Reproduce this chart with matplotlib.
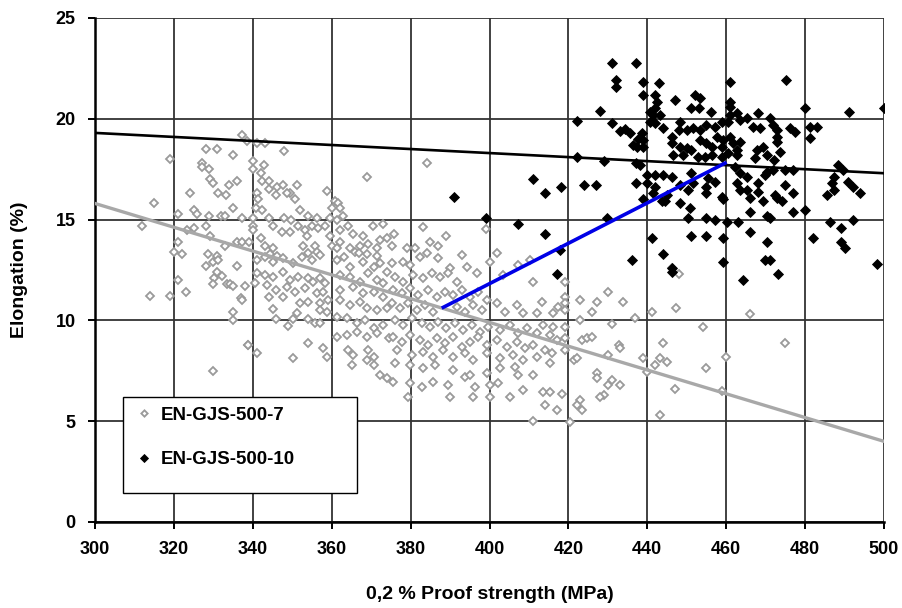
import matplotlib.pyplot as plt
from matplotlib.patches import Rectangle

plt.rcParams["font.family"] = ["Liberation Sans", "DejaVu Sans"]
plt.rcParams["font.weight"] = "bold"
plt.rcParams["axes.labelweight"] = "bold"

# 0,2 % proof strength (MPa) vs elongation (%) per test bar
GJS_500_7 = [
    (319.0, 18.0), (315.0, 15.8), (312.0, 14.7), (324.1, 16.3), (321.1, 15.3),
    (325.1, 15.5), (325.9, 15.3), (328.1, 14.7), (325.1, 14.6), (323.2, 14.5),
    (321.0, 13.9), (319.9, 13.4), (322.0, 13.3), (328.1, 18.5), (330.8, 18.5),
    (335.1, 18.2), (327.0, 17.8), (327.0, 17.6), (328.9, 17.5), (329.1, 17.0),
    (330.0, 16.8), (331.1, 16.3), (333.1, 16.2), (334.0, 16.7), (335.9, 16.9),
    (337.2, 19.2), (335.1, 15.6), (329.0, 15.2), (331.9, 15.2), (332.9, 15.2),
    (337.2, 15.1), (329.2, 14.2), (333.0, 13.7), (335.9, 13.9), (337.2, 13.9),
    (328.7, 13.3), (330.8, 13.2), (339.0, 13.9),
    (313.9, 11.2), (319.0, 11.2), (321.1, 12.0), (323.1, 11.4), (328.1, 12.7),
    (330.0, 12.9), (331.1, 13.0), (331.0, 12.4), (330.2, 12.1), (330.0, 11.8),
    (332.1, 12.2), (333.4, 11.8), (334.2, 11.8), (335.1, 11.7), (336.1, 12.7),
    (338.0, 11.7), (337.0, 11.1), (337.2, 11.0), (335.1, 10.4), (335.1, 10.0),
    (338.7, 8.8), (330.0, 7.5),
    (338.5, 18.9), (341.0, 18.8), (343.1, 18.8), (348.0, 18.4), (340.0, 17.9),
    (340.0, 17.5), (342.8, 17.7), (342.0, 17.3), (342.3, 16.9), (344.2, 16.9),
    (344.0, 16.5), (346.1, 16.6), (347.7, 16.7), (349.4, 16.3), (351.1, 16.7),
    (345.9, 16.2), (348.6, 16.3), (350.7, 16.0), (341.0, 16.3), (341.4, 16.0),
    (340.8, 15.6), (342.3, 15.5), (352.0, 15.5), (358.9, 16.4), (369.0, 17.1),
    (360.8, 15.9), (361.7, 15.8), (360.0, 15.6), (362.1, 15.6), (340.1, 15.1),
    (344.2, 15.1), (348.0, 15.1), (349.8, 15.0), (354.1, 15.2), (356.2, 15.1),
    (359.6, 15.1), (361.3, 15.0), (362.9, 15.2), (340.0, 14.7), (340.1, 14.5),
    (345.2, 14.7), (347.3, 14.4), (349.4, 14.4), (351.5, 14.7), (353.2, 14.5),
    (354.9, 14.7), (356.6, 14.6), (358.3, 14.7), (359.6, 14.2), (362.1, 14.5),
    (364.2, 14.7), (365.5, 14.3), (368.0, 14.2), (370.5, 14.7), (373.1, 14.8),
    (375.8, 14.3), (342.0, 14.1), (343.1, 13.7), (345.2, 13.6), (344.4, 13.3),
    (346.1, 13.2), (353.7, 14.2), (352.8, 13.7), (355.8, 13.7), (356.2, 13.4),
    (360.0, 13.7), (361.3, 13.6), (362.1, 13.9), (364.6, 13.6), (365.9, 13.4),
    (367.2, 13.7), (369.3, 13.8), (371.4, 13.6), (372.2, 14.0), (373.9, 14.1),
    (375.2, 13.7), (368.9, 13.3), (371.4, 13.2),
    (341.0, 13.0), (343.1, 13.16), (345.2, 12.91), (347.7, 13.08), (350.3, 12.83),
    (352.4, 13.16), (354.1, 13.33), (355.0, 13.0), (357.0, 13.24),
    (341.0, 12.34), (343.1, 12.25), (345.2, 12.17), (347.7, 12.42), (349.4, 12.0),
    (351.5, 12.17), (354.1, 12.09), (355.3, 11.92), (357.0, 12.09), (358.3, 11.84),
    (340.6, 11.84), (343.5, 11.76), (346.0, 11.51), (348.6, 11.67), (350.7, 11.42),
    (353.2, 11.59), (356.2, 11.34), (357.9, 11.42),
    (344.0, 11.18), (347.7, 11.18), (352.0, 10.85), (354.1, 10.93), (357.0, 10.85),
    (359.1, 11.01), (345.2, 10.55), (351.1, 10.35), (357.0, 10.52), (358.7, 10.43),
    (345.9, 10.08), (349.0, 9.71), (350.3, 10.05), (354.1, 10.05), (355.8, 9.88),
    (357.0, 9.88), (338.9, 8.78), (341.0, 8.4), (354.1, 8.9), (350.1, 8.12),
    (357.9, 8.61), (358.9, 8.2),
    (361.3, 12.99), (363.0, 13.16), (364.6, 12.66), (366.8, 13.33), (368.0, 12.91),
    (370.6, 12.66), (372.2, 12.83), (374.0, 12.42), (362.1, 12.25), (364.6, 12.17),
    (367.2, 11.92), (369.3, 12.33), (371.4, 12.0), (373.1, 11.84), (362.1, 11.5),
    (365.5, 11.67), (368.0, 11.34), (370.6, 11.42), (373.1, 11.18), (362.1, 11.01),
    (364.6, 10.76), (367.2, 10.93), (368.9, 10.6), (371.4, 10.51), (374.0, 10.6),
    (361.3, 10.18), (363.8, 10.1), (366.3, 9.85), (368.4, 10.02), (370.6, 9.6),
    (373.1, 9.77), (361.3, 9.19), (363.8, 9.27), (366.3, 9.44), (368.9, 9.19),
    (371.4, 9.36), (374.4, 9.11), (364.2, 8.53), (365.5, 8.28), (369.3, 8.53),
    (370.6, 8.2), (368.9, 8.03), (370.6, 7.79), (365.1, 7.79), (372.2, 7.29),
    (374.0, 7.12),
    (379.0, 13.57), (381.1, 13.57), (383.1, 14.62), (384.9, 13.9), (387.0, 13.69),
    (389.1, 14.19), (399.1, 14.52), (384.1, 17.8),
    (375.2, 12.83), (378.2, 12.91), (379.9, 12.75), (382.4, 13.16), (384.1, 13.33),
    (387.0, 13.08), (390.0, 12.58), (393.0, 13.24), (394.2, 12.66), (396.8, 12.33),
    (400.1, 12.91), (401.8, 13.33), (403.5, 12.25), (407.3, 12.75), (410.3, 12.99),
    (411.1, 11.92), (412.0, 10.35),
    (376.0, 12.17), (378.2, 11.92), (380.7, 12.25), (383.2, 12.08), (385.3, 12.33),
    (387.5, 12.17), (389.6, 12.33), (391.7, 11.92),
    (375.6, 11.5), (377.7, 11.34), (379.9, 11.59), (382.0, 11.26), (384.5, 11.5),
    (386.6, 11.18), (388.7, 11.42), (390.8, 11.26), (393.0, 11.5), (395.1, 11.18),
    (397.2, 11.42), (399.3, 11.01),
    (375.2, 10.85), (377.3, 10.6), (379.4, 10.85), (381.5, 10.51), (383.7, 10.76),
    (385.8, 10.43), (391.7, 10.68), (393.8, 10.43), (395.9, 10.76), (398.0, 10.51),
    (401.8, 10.85), (403.9, 10.43), (406.9, 10.76), (408.6, 10.35),
    (376.0, 10.02), (378.2, 9.77), (380.3, 10.1), (382.8, 9.85), (384.9, 9.69),
    (387.0, 9.94), (389.1, 9.6), (391.3, 9.85), (393.4, 9.52), (395.5, 9.77),
    (397.6, 9.44), (399.7, 9.69), (402.7, 9.52), (405.2, 9.77), (407.3, 9.36),
    (409.4, 9.6), (412.0, 9.36),
    (375.6, 9.19), (377.7, 8.94), (379.9, 9.27), (382.4, 9.03), (384.5, 8.78),
    (386.6, 9.11), (388.7, 8.86), (390.8, 9.19), (393.0, 8.7), (395.1, 8.94),
    (397.2, 9.19), (399.3, 8.78), (401.8, 9.03), (404.4, 8.7), (406.9, 8.94),
    (409.0, 8.61), (411.1, 8.78),
    (376.5, 8.53), (380.3, 8.28), (383.2, 8.45), (385.8, 8.2), (388.3, 8.53),
    (390.8, 8.2), (393.8, 8.37), (395.9, 8.03), (399.3, 8.37), (402.7, 8.12),
    (406.0, 8.28), (408.6, 8.03), (412.0, 8.2),
    (376.0, 7.87), (379.9, 7.79), (383.2, 7.62), (386.2, 7.79), (390.8, 7.54),
    (393.8, 7.2), (395.1, 7.29), (399.3, 7.37), (402.7, 7.62), (406.5, 7.7),
    (407.3, 7.29), (411.1, 7.29),
    (375.6, 6.96), (379.9, 6.88), (382.8, 6.71), (385.8, 6.96), (389.6, 6.79),
    (396.3, 6.71), (400.1, 6.79), (402.2, 6.88), (408.6, 6.55), (379.4, 6.21),
    (390.0, 6.21), (395.9, 6.21), (400.1, 6.21), (405.2, 6.21),
    (419.1, 11.92), (413.2, 10.93), (416.2, 10.35), (417.4, 10.68), (419.1, 11.18),
    (419.1, 10.85), (419.1, 10.51), (422.9, 11.01), (425.9, 10.43), (427.2, 10.93),
    (430.1, 11.42), (433.9, 10.93), (441.1, 10.43), (447.4, 10.6), (436.9, 10.1),
    (422.9, 10.02), (431.0, 9.82), (454.2, 9.69), (444.1, 8.86), (413.6, 9.77),
    (416.2, 9.69), (419.1, 9.69), (415.3, 9.27), (417.0, 9.03), (419.1, 9.11),
    (423.4, 9.03), (424.6, 9.11), (425.9, 9.16), (432.7, 8.78), (433.1, 8.61),
    (430.1, 8.28), (439.0, 8.12), (443.2, 8.12), (442.0, 7.79), (444.9, 7.95),
    (455.0, 7.62), (421.3, 8.03), (422.1, 8.12), (414.1, 8.53), (415.8, 8.37),
    (415.3, 7.87), (419.1, 8.53), (427.2, 7.37), (427.2, 7.12), (431.0, 7.04),
    (430.1, 6.79), (433.1, 6.79), (428.9, 6.3), (428.0, 6.21), (422.9, 6.05),
    (422.1, 5.8), (423.4, 5.55), (417.0, 5.55), (414.1, 5.8), (413.6, 6.46),
    (415.3, 6.46), (418.3, 6.35), (447.0, 6.58), (443.2, 5.31), (420.4, 4.97),
    (439.8, 7.45), (411.0, 5.0),
    (446.2, 12.6), (448.1, 12.3), (466.0, 10.3), (459.9, 8.2), (459.0, 6.5),
    (475.0, 8.9),
]

GJS_500_10 = [
    (391.1, 16.1), (399.1, 15.1), (407.1, 14.8), (411.1, 17.0), (414.1, 16.3),
    (414.1, 14.3), (417.0, 12.3), (417.9, 13.5), (418.1, 16.6), (422.1, 18.1),
    (422.1, 19.9), (424.0, 16.7), (427.0, 16.7), (428.0, 20.4), (429.0, 17.9),
    (429.7, 15.1), (431.0, 19.8), (431.1, 22.75), (432.1, 21.9), (432.1, 21.6),
    (433.1, 19.4), (434.3, 19.5), (435.6, 19.3), (436.3, 18.7), (436.0, 13.0),
    (437.1, 22.75), (437.1, 17.8), (437.1, 16.8), (437.3, 18.6), (437.7, 19.0),
    # 438-500 MPa, upper band
    (439.0, 21.84), (439.0, 21.18), (443.0, 21.76), (461.0, 21.84), (475.1, 21.93),
    (441.9, 21.18), (442.4, 20.85), (441.9, 20.52), (440.7, 20.36), (441.5, 20.19),
    (443.2, 20.19), (440.7, 19.86), (441.9, 19.78), (447.0, 20.93), (452.1, 21.18),
    (453.4, 21.02), (451.2, 20.52), (453.2, 20.52), (456.1, 20.36), (461.0, 20.85),
    (461.0, 20.6), (462.7, 20.27), (461.0, 20.19), (468.1, 20.31), (471.1, 20.03),
    (480.1, 20.52), (491.1, 20.36), (500.0, 20.52),
    (444.1, 19.53), (448.3, 19.86), (448.1, 19.45), (450.0, 19.45), (451.7, 19.53),
    (453.4, 19.45), (455.0, 19.69), (457.2, 19.61), (458.9, 19.86), (460.5, 19.86),
    (463.5, 19.94), (465.2, 20.03), (466.9, 19.61), (468.6, 19.53), (471.9, 19.69),
    (472.8, 19.45), (476.2, 19.53), (477.4, 19.36), (481.2, 19.61), (482.9, 19.61),
    (481.2, 19.03), (438.6, 19.28), (439.0, 18.95), (439.0, 18.62),
    (446.2, 19.12), (446.2, 18.78), (448.3, 18.62), (450.0, 18.54), (451.2, 18.45),
    (453.4, 18.95), (455.0, 18.78), (456.3, 18.62), (457.6, 19.12), (459.3, 18.95),
    (458.9, 18.62), (461.0, 19.12), (461.8, 18.78), (462.7, 18.45), (463.5, 18.87),
    (446.6, 18.21), (449.1, 18.21), (452.9, 18.12), (454.6, 18.12), (456.3, 18.21),
    (458.9, 18.12), (460.5, 18.29), (462.7, 18.21),
    (467.7, 18.45), (469.4, 18.62), (467.3, 18.04), (470.3, 18.21), (472.0, 17.96),
    (472.8, 18.87), (472.8, 19.12), (473.6, 18.37),
    (488.4, 17.71), (489.7, 17.46), (487.2, 17.13), (486.7, 16.8), (487.2, 16.47),
    (485.5, 16.22), (491.0, 16.88), (492.2, 16.63), (493.9, 16.3),
    (438.2, 17.71), (439.8, 17.21), (441.9, 17.21), (444.1, 17.21), (446.2, 17.13),
    (439.8, 16.8), (441.9, 16.63), (441.5, 16.3), (444.9, 16.22), (451.2, 17.3),
    (455.5, 17.05), (455.0, 16.63), (455.0, 16.3), (457.2, 16.88), (458.9, 16.14),
    (462.2, 17.63), (463.5, 17.3), (465.2, 17.13), (462.7, 16.8), (463.5, 16.47),
    (465.2, 16.47), (468.1, 16.8), (468.1, 16.39), (469.8, 17.21), (470.3, 17.38),
    (472.4, 16.22), (474.9, 16.72), (477.0, 16.3), (474.9, 17.46), (477.0, 17.46),
    (471.9, 17.46), (448.3, 16.72), (450.4, 16.47), (451.7, 16.8),
    # 438-500 MPa, lower band
    (443.6, 15.9), (444.5, 15.9), (448.3, 15.8), (450.8, 15.6), (450.4, 15.1),
    (459.3, 16.0), (455.0, 15.1), (457.2, 15.0), (460.1, 14.9), (441.1, 14.1),
    (444.1, 13.3), (446.2, 12.6), (446.2, 12.4), (451.2, 14.2), (455.0, 14.2),
    (459.1, 14.1), (459.1, 12.9), (466.0, 16.05), (466.0, 15.4), (469.4, 15.9),
    (470.3, 15.2), (471.1, 15.1), (472.8, 16.05), (474.1, 15.9), (477.0, 15.4),
    (480.1, 15.5), (463.1, 14.9), (466.0, 14.4), (470.3, 13.9), (469.8, 13.0),
    (471.1, 13.0), (473.2, 12.3), (464.2, 12.0), (482.1, 14.1), (486.3, 14.9),
    (489.0, 14.6), (489.0, 13.9), (490.1, 13.6), (492.1, 15.0), (498.1, 12.8),
    (439.0, 16.0),
]

# linear trends and the shift between the two grades
TREND_7_X = [300, 500]
TREND_7_Y = [15.8, 4.0]
TREND_10_X = [300, 500]
TREND_10_Y = [19.3, 17.3]
SHIFT_X = [388.3, 459.7]
SHIFT_Y = [10.65, 17.8]

x7, y7 = zip(*GJS_500_7)
x10, y10 = zip(*GJS_500_10)

fig = plt.figure(figsize=(9.03, 6.08), dpi=100)
ax = fig.add_axes([95 / 903, 86 / 608, 789 / 903, 504 / 608])

ax.plot(x7, y7, "D", ms=4.3, mfc="white", mec="#9a9a9a", mew=1.3,
        ls="none", zorder=3, label="EN-GJS-500-7")
ax.plot(x10, y10, "D", ms=5.4, mfc="black", mec="black", mew=0.6,
        ls="none", zorder=3, label="EN-GJS-500-10")
ax.plot(TREND_7_X, TREND_7_Y, color="#a8a8a8", lw=2.4, zorder=4)
ax.plot(TREND_10_X, TREND_10_Y, color="black", lw=1.9, zorder=4)
ax.plot(SHIFT_X, SHIFT_Y, color="#0000e6", lw=2.6, zorder=5)

ax.set_xlim(300, 500)
ax.set_ylim(0, 25)
ax.set_xticks(range(300, 501, 20))
ax.set_yticks(range(0, 26, 5))
ax.grid(True, color="#333333", lw=1.3)
ax.set_axisbelow(True)
for side in ("top", "right"):
    ax.spines[side].set_visible(False)
for side in ("left", "bottom"):
    ax.spines[side].set_linewidth(1.8)
ax.tick_params(direction="out", length=5, width=1.4, labelsize=13, pad=9)

ax.set_xlabel("0,2 % Proof strength (MPa)", fontsize=14, labelpad=20)
ax.set_ylabel("Elongation (%)", fontsize=14, labelpad=20)

# legend box
ax.add_patch(Rectangle((0.0355, 0.0575), 0.2966, 0.1905, transform=ax.transAxes,
                       fc="white", ec="black", lw=1.0, zorder=6))
leg = ax.legend(loc="upper left", bbox_to_anchor=(0.031, 0.262), frameon=False,
                fontsize=13.5, handlelength=0.8, handletextpad=0.5,
                labelspacing=1.45, markerscale=0.75)
leg.set_zorder(7)

fig.savefig("out.png", dpi=100)
